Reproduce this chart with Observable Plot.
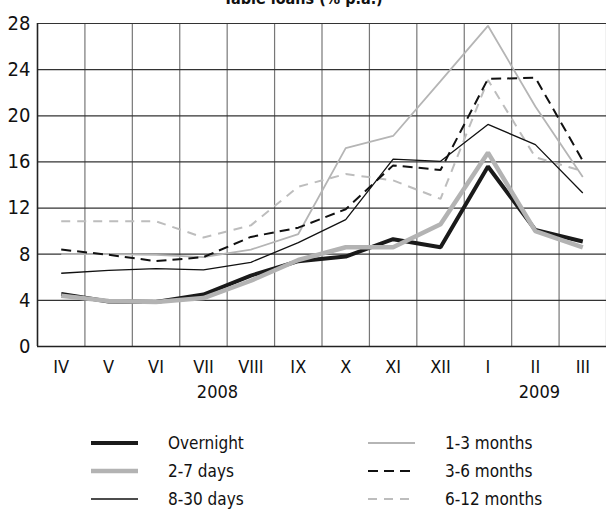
<!DOCTYPE html>
<html><head><meta charset="utf-8">
<script src="https://cdn.jsdelivr.net/npm/d3@7"></script>
<script src="https://cdn.jsdelivr.net/npm/@observablehq/plot@0.6"></script>
<style>
body{margin:0;background:#fff;font-family:"DejaVu Sans Condensed","DejaVu Sans",sans-serif;font-stretch:condensed;color:#111;}
#wrap{position:relative;width:606px;height:512px;overflow:hidden;background:#fff;}
#title{position:absolute;top:-11px;left:0;width:606px;text-align:center;font-weight:bold;font-size:16px;line-height:20px;z-index:2;}
#chart{position:absolute;top:0;left:0;}
#chart svg text{font-stretch:condensed;}
#legend{position:absolute;top:0;left:0;width:606px;height:512px;}
.item{position:absolute;height:28px;display:flex;align-items:center;font-size:17px;}
.item svg{margin-right:30px;}
</style>
</head><body>
<div id="wrap">
<div id="title">Table loans (% p.a.)</div>
<div id="chart"></div>
<div id="legend"></div>
</div>
<script>
const months = ["IV","V","VI","VII","VIII","IX","X","XI","XII","I","II","III"];
const years = ["2008","2009"];
const yearMonth = ["VII","II"];
const yTicks = [0,4,8,12,16,20,24,28];

const overnight = [4.55,3.9,3.85,4.5,6.15,7.4,7.8,9.3,8.6,15.6,10.1,9.1];
const days2to7  = [4.4,3.95,3.85,4.2,5.7,7.5,8.6,8.6,10.6,16.8,10.0,8.6];
const days8to30 = [6.35,6.6,6.75,6.65,7.3,9.0,11.0,16.25,16.05,19.25,17.5,13.3];
const m1to3     = [8.0,8.0,7.95,7.75,8.4,9.75,17.2,18.25,23.0,27.8,20.8,14.7];
const m3to6     = [8.4,7.95,7.4,7.75,9.5,10.3,11.9,15.7,15.3,23.2,23.3,16.1];
const m6to12    = [10.85,10.85,10.85,9.45,10.5,13.85,14.95,14.4,12.8,23.1,16.4,15.2];

const series = [
  {name:"6-12 months", values:m6to12, stroke:"#bdbdbd", width:2, dash:"9,7"},
  {name:"1-3 months", values:m1to3, stroke:"#b5b5b5", width:1.8, dash:null},
  {name:"3-6 months", values:m3to6, stroke:"#111", width:2, dash:"10,6"},
  {name:"8-30 days", values:days8to30, stroke:"#111", width:1.3, dash:null},
  {name:"Overnight", values:overnight, stroke:"#1a1a1a", width:4, dash:null},
  {name:"2-7 days", values:days2to7, stroke:"#b3b3b3", width:4.5, dash:null}
];

const font = "'DejaVu Sans Condensed','DejaVu Sans',sans-serif";
const lineMarks = series.map(s => Plot.line(
  s.values.map((v,i)=>({x:i+0.5, y:v})),
  {x:"x", y:"y", stroke:s.stroke, strokeWidth:s.width, strokeDasharray:s.dash, strokeLinejoin:"miter", strokeLinecap:"butt"}
));

const colPx = 569/12;
const yearShift = {"2008":14, "2009":4}; // label nudges in pixels
const yearTicks = years.map((y,i)=>months.indexOf(yearMonth[i]) + 0.5 + yearShift[y]/colPx);

const chart = Plot.plot({
  width:606, height:415,
  marginLeft:37, marginRight:0, marginTop:23, marginBottom:69,
  x:{domain:[0,12], axis:null},
  y:{domain:[0,28], axis:null},
  style:{fontFamily:font, background:"transparent", color:"#111"},
  marks:[
    Plot.ruleX(d3.range(months.length+1), {stroke:"#777", strokeWidth:1.2}),
    Plot.ruleY(yTicks, {stroke:"#333", strokeWidth:1.2}),
    Plot.ruleX([0], {stroke:"#222", strokeWidth:1.5}),
    Plot.ruleY([0], {stroke:"#222", strokeWidth:1.5}),
    ...lineMarks,
    Plot.axisY(yTicks, {tickSize:0, tickPadding:7, fontSize:20, label:null}),
    Plot.axisX(months.map((m,i)=>i+0.5), {tickSize:0, tickPadding:14, fontSize:18, label:null, tickFormat:d=>months[Math.floor(d)]}),
    Plot.axisX(yearTicks, {tickSize:0, tickPadding:39, fontSize:18, label:null, tickFormat:(d,i)=>years[i]})
  ]
});
document.getElementById("chart").appendChild(chart);

const legendOrder = ["Overnight","2-7 days","8-30 days","1-3 months","3-6 months","6-12 months"];
const legend = document.getElementById("legend");
legendOrder.forEach((name, k) => {
  const s = series.find(d=>d.name===name);
  const col = Math.floor(k/3), row = k%3;
  const div = document.createElement("div");
  div.className = "item";
  div.style.left = (col===0 ? 91 : 368) + "px";
  div.style.top = (429 + row*28) + "px";
  const ns = "http://www.w3.org/2000/svg";
  const svg = document.createElementNS(ns,"svg");
  svg.setAttribute("width", 47); svg.setAttribute("height", 10);
  const l = document.createElementNS(ns,"line");
  l.setAttribute("x1",0); l.setAttribute("x2",47); l.setAttribute("y1",5); l.setAttribute("y2",5);
  l.setAttribute("stroke", s.stroke); l.setAttribute("stroke-width", s.width);
  if (s.dash) l.setAttribute("stroke-dasharray", s.dash);
  svg.appendChild(l);
  div.appendChild(svg);
  const sp = document.createElement("span"); sp.textContent = name;
  div.appendChild(sp);
  legend.appendChild(div);
});
</script>
</body></html>
